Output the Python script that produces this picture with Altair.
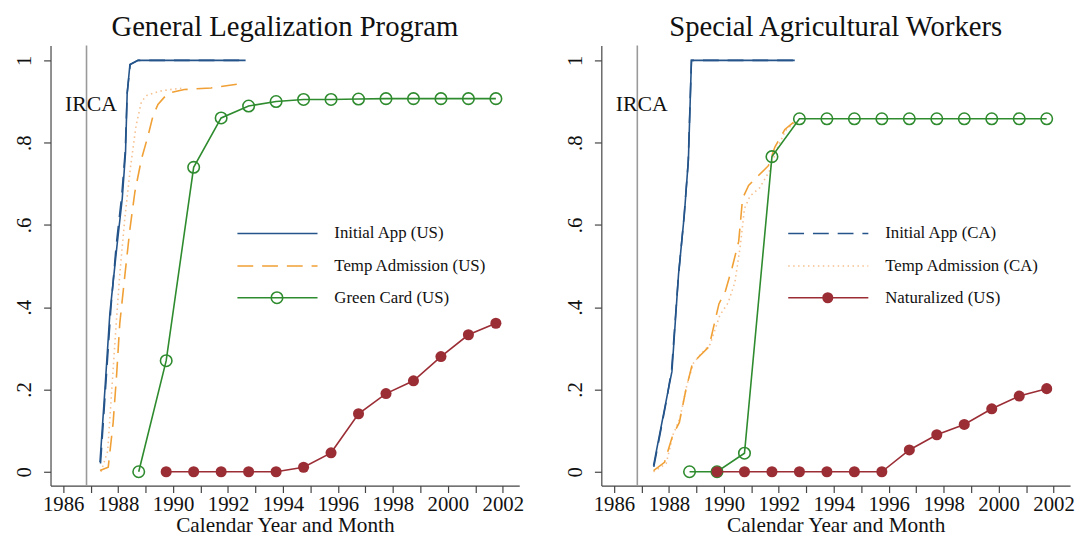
import altair as alt
import pandas as pd

# ---------------- text ----------------
TITLE_L = "General Legalization Program"
TITLE_R = "Special Agricultural Workers"
X_TITLE = "Calendar Year and Month"
IRCA_LABEL = "IRCA"
IRCA_DATE = 1986.85
IRCA_Y = 0.877

LEG_L = ["Initial App (US)", "Temp Admission (US)", "Green Card (US)"]
LEG_R = ["Initial App (CA)", "Temp Admission (CA)", "Naturalized (US)"]

X_TICKS = list(range(1986, 2003))
Y_TICKS = [0, 0.2, 0.4, 0.6, 0.8, 1]

# ---------------- left panel: General Legalization Program ----------------
L_APP_US_X = [1987.34, 1987.52, 1987.70, 1987.95, 1988.15, 1988.27, 1988.33, 1988.43, 1988.73, 1992.64]
L_APP_US_Y = [0.023, 0.20, 0.385, 0.544, 0.664, 0.776, 0.92, 0.99, 1.0, 1.0]
L_APP_CA_X = [1987.36, 1987.55, 1987.74, 1987.93, 1988.13, 1988.26, 1988.33, 1988.44, 1988.72, 1992.62]
L_APP_CA_Y = [0.02, 0.21, 0.40, 0.55, 0.67, 0.78, 0.92, 0.99, 1.0, 1.0]

L_TMP_US_X = [1987.34, 1987.64, 1987.82, 1987.95, 1988.06, 1988.25, 1988.43, 1988.61, 1988.85,
              1989.09, 1989.27, 1989.45, 1989.81, 1990.41, 1991.38, 1992.62]
L_TMP_US_Y = [0.003, 0.011, 0.12, 0.24, 0.36, 0.48, 0.59, 0.68, 0.76,
              0.817, 0.865, 0.893, 0.92, 0.929, 0.933, 0.945]
L_TMP_CA_X = [1987.38, 1987.62, 1987.77, 1987.92, 1988.06, 1988.25, 1988.45, 1988.65, 1988.85,
              1989.05, 1989.5, 1990.0, 1990.3]
L_TMP_CA_Y = [0.0, 0.05, 0.20, 0.35, 0.48, 0.62, 0.74, 0.84, 0.90,
              0.915, 0.925, 0.93, 0.932]

L_GC_X = [1988.75, 1989.75, 1990.75, 1991.75, 1992.75, 1993.75, 1994.75, 1995.75, 1996.75,
          1997.75, 1998.75, 1999.75, 2000.75, 2001.75]
L_GC_Y = [0.0, 0.27, 0.74, 0.86, 0.889, 0.90, 0.905, 0.905, 0.906,
          0.907, 0.907, 0.907, 0.907, 0.907]

L_NAT_X = [1989.75, 1990.75, 1991.75, 1992.75, 1993.75, 1994.75, 1995.75, 1996.75, 1997.75,
           1998.75, 1999.75, 2000.75, 2001.75]
L_NAT_Y = [0.0, 0.0, 0.0, 0.0, 0.0, 0.011, 0.046, 0.141, 0.19, 0.221, 0.28, 0.333, 0.361]

# ---------------- right panel: Special Agricultural Workers ----------------
R_APP_US_X = [1987.44, 1987.95, 1988.11, 1988.35, 1988.56, 1988.71, 1988.82, 1992.58]
R_APP_US_Y = [0.015, 0.19, 0.244, 0.48, 0.624, 0.76, 1.0, 1.0]
R_APP_CA_X = [1987.45, 1987.93, 1988.10, 1988.34, 1988.55, 1988.70, 1988.82, 1992.58]
R_APP_CA_Y = [0.012, 0.18, 0.25, 0.47, 0.62, 0.75, 1.0, 1.0]

R_TMP_US_X = [1987.44, 1987.84, 1988.13, 1988.38, 1988.62, 1988.86, 1989.10, 1989.46, 1989.82,
              1990.06, 1990.30, 1990.54, 1990.68, 1990.90, 1991.26, 1991.62, 1991.86, 1992.22, 1992.58]
R_TMP_US_Y = [0.003, 0.023, 0.087, 0.12, 0.20, 0.264, 0.28, 0.304, 0.408,
              0.44, 0.496, 0.56, 0.664, 0.696, 0.72, 0.744, 0.79, 0.832, 0.852]
R_TMP_CA_X = [1987.44, 1987.90, 1988.15, 1988.40, 1988.65, 1988.90, 1989.15, 1989.50, 1989.85,
              1990.15, 1990.40, 1990.60, 1990.75, 1990.95, 1991.30, 1991.65, 1991.90, 1992.25, 1992.60]
R_TMP_CA_Y = [0.0, 0.02, 0.09, 0.13, 0.21, 0.265, 0.285, 0.31, 0.38,
              0.41, 0.46, 0.55, 0.64, 0.67, 0.69, 0.73, 0.78, 0.83, 0.85]

R_GC_X = [1988.75, 1989.75, 1990.75, 1991.75, 1992.75, 1993.75, 1994.75, 1995.75, 1996.75,
          1997.75, 1998.75, 1999.75, 2000.75, 2001.75]
R_GC_Y = [0.0, 0.0, 0.045, 0.766, 0.858, 0.858, 0.858, 0.858, 0.858,
          0.858, 0.858, 0.858, 0.858, 0.858]

R_NAT_X = [1989.75, 1990.75, 1991.75, 1992.75, 1993.75, 1994.75, 1995.75, 1996.75, 1997.75,
           1998.75, 1999.75, 2000.75, 2001.75]
R_NAT_Y = [0.0, 0.0, 0.0, 0.0, 0.0, 0.0, 0.0, 0.053, 0.09, 0.115, 0.153, 0.184, 0.202]

# ---------------- styles ----------------
FONT = "Liberation Serif"
BLUE = "#24548a"
ORANGE = "#f0a035"
LIGHT_ORANGE = "#f6c08f"
GREEN = "#2e8b2e"
MAROON = "#9b2d35"
IRCA_GREY = "#9a9a9a"
DASH = [16, 9]
DOT = [1.5, 3.5]

X_DOMAIN = [1985.54, 2002.6]
Y_DOMAIN = [-0.0337, 1.036]
PW, PH = 474, 445

AX_STYLE = dict(labelFont=FONT, titleFont=FONT, labelFontSize=21, titleFontSize=21.5,
                labelColor="#111", titleColor="#111", titleFontWeight="normal",
                domainColor="#444", tickColor="#444", domainWidth=1.2, tickWidth=1.2)


def xenc():
    return alt.X(
        "x:Q",
        scale=alt.Scale(domain=X_DOMAIN, nice=False, zero=False),
        axis=alt.Axis(
            values=X_TICKS, format="d",
            labelExpr="datum.value % 2 == 0 ? datum.label : ''",
            title=X_TITLE, grid=False, tickSize=7, labelPadding=1,
            titlePadding=0, labelOverlap=False, labelFlush=False, **AX_STYLE,
        ),
    )


def yenc():
    return alt.Y(
        "y:Q",
        scale=alt.Scale(domain=Y_DOMAIN, nice=False, zero=False),
        axis=alt.Axis(
            values=Y_TICKS,
            labelExpr="datum.value == 0 ? '0' : datum.value == 1 ? '1' : replace(format(datum.value, '.1f'), '0.', '.')",
            labelAngle=270, labelAlign="center", labelBaseline="alphabetic",
            title=None, grid=False, tickSize=7, labelPadding=13,
            labelOverlap=False, labelFlush=False, **AX_STYLE,
        ),
    )


def line(xs, ys, color, dash=None, width=1.6):
    df = pd.DataFrame({"x": xs, "y": ys})
    kw = dict(color=color, strokeWidth=width, interpolate="linear")
    if dash:
        kw["strokeDash"] = dash
    return alt.Chart(df).mark_line(**kw).encode(x=xenc(), y=yenc())


def pts(xs, ys, color, filled):
    df = pd.DataFrame({"x": xs, "y": ys})
    if filled:
        m = alt.Chart(df).mark_point(shape="circle", filled=True, size=125, color=color, opacity=1)
    else:
        m = alt.Chart(df).mark_point(shape="circle", filled=False, size=135, color=color,
                                     strokeWidth=1.6, opacity=1)
    return m.encode(x=xenc(), y=yenc())


def irca_layers():
    df = pd.DataFrame({"x": [IRCA_DATE], "y": [IRCA_Y], "label": [IRCA_LABEL]})
    rule = alt.Chart(df).mark_rule(color=IRCA_GREY, strokeWidth=1.6).encode(x=xenc())
    txt = alt.Chart(df).mark_text(font=FONT, fontSize=22, color="#111", align="center",
                                  baseline="alphabetic", dx=4.5).encode(
        x=xenc(), y=yenc(), text="label:N")
    return [rule, txt]


LEG_X1, LEG_X2, LEG_XC, LEG_TX = 189, 270, 229, 287
LEG_Y = [190, 223, 255]


def legend_item(label, y, color, dash=None, marker=None, width=1.6):
    df = pd.DataFrame({"label": [label]})
    kw = dict(color=color, strokeWidth=width)
    if dash:
        kw["strokeDash"] = dash
    layers = [
        alt.Chart(df).mark_rule(**kw).encode(
            x=alt.value(LEG_X1), x2=alt.value(LEG_X2), y=alt.value(y)),
        alt.Chart(df).mark_text(font=FONT, fontSize=17, color="#111", align="left",
                                baseline="middle").encode(
            x=alt.value(LEG_TX), y=alt.value(y), text="label:N"),
    ]
    if marker == "open":
        layers.append(alt.Chart(df).mark_point(shape="circle", filled=False, size=135, color=color,
                                               strokeWidth=1.6, opacity=1).encode(
            x=alt.value(LEG_XC), y=alt.value(y)))
    elif marker == "filled":
        layers.append(alt.Chart(df).mark_point(shape="circle", filled=True, size=125, color=color,
                                               opacity=1).encode(
            x=alt.value(LEG_XC), y=alt.value(y)))
    return layers


left_layers = irca_layers() + [
    line(L_APP_CA_X, L_APP_CA_Y, BLUE, DASH),
    line(L_APP_US_X, L_APP_US_Y, BLUE),
    line(L_TMP_CA_X, L_TMP_CA_Y, LIGHT_ORANGE, DOT),
    line(L_TMP_US_X, L_TMP_US_Y, ORANGE, DASH),
    line(L_GC_X, L_GC_Y, GREEN),
    pts(L_GC_X, L_GC_Y, GREEN, False),
    line(L_NAT_X, L_NAT_Y, MAROON),
    pts(L_NAT_X, L_NAT_Y, MAROON, True),
] + legend_item(LEG_L[0], LEG_Y[0], BLUE) \
  + legend_item(LEG_L[1], LEG_Y[1], ORANGE, DASH) \
  + legend_item(LEG_L[2], LEG_Y[2], GREEN, marker="open")

right_layers = irca_layers() + [
    line(R_APP_CA_X, R_APP_CA_Y, BLUE, DASH),
    line(R_APP_US_X, R_APP_US_Y, BLUE),
    line(R_TMP_CA_X, R_TMP_CA_Y, LIGHT_ORANGE, DOT),
    line(R_TMP_US_X, R_TMP_US_Y, ORANGE, DASH),
    line(R_GC_X, R_GC_Y, GREEN),
    pts(R_GC_X, R_GC_Y, GREEN, False),
    line(R_NAT_X, R_NAT_Y, MAROON),
    pts(R_NAT_X, R_NAT_Y, MAROON, True),
] + legend_item(LEG_R[0], LEG_Y[0], BLUE, DASH) \
  + legend_item(LEG_R[1], LEG_Y[1], LIGHT_ORANGE, DOT) \
  + legend_item(LEG_R[2], LEG_Y[2], MAROON, marker="filled")


def panel(title, layers):
    return alt.layer(*layers).properties(
        width=PW, height=PH,
        title=alt.TitleParams(title, font=FONT, fontSize=29, fontWeight="normal",
                              color="#111", anchor="middle", offset=3),
    )


chart = alt.hconcat(panel(TITLE_L, left_layers), panel(TITLE_R, right_layers), spacing=40).properties(
    padding={"left": 5, "top": 2, "right": 0, "bottom": 0},
    background="white",
).configure_view(stroke=None)

chart.save("out.html", embed_options={"renderer": "svg", "actions": False})
